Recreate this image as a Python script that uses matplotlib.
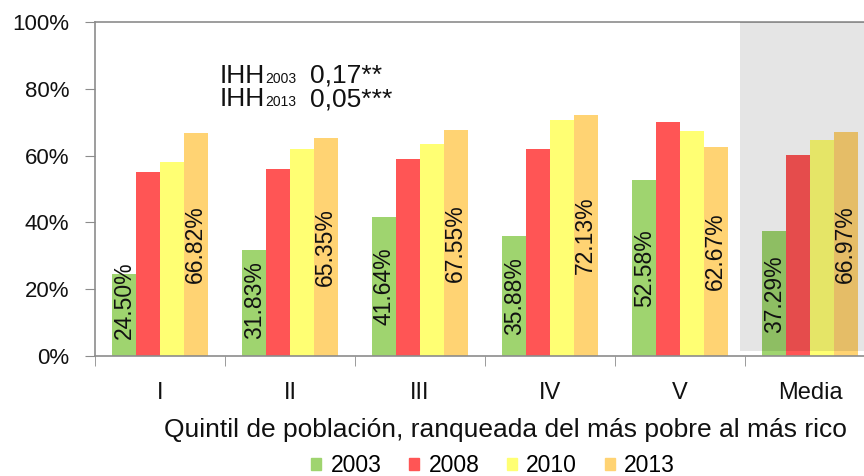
import matplotlib.pyplot as plt
from matplotlib.patches import Patch
import numpy as np

plt.rcParams['font.family'] = ['Liberation Sans', 'DejaVu Sans']

# share of households per income quintile, by survey year
quintiles = ['I', 'II', 'III', 'IV', 'V', 'Media']
years = ['2003', '2008', '2010', '2013']
v2003 = [24.50, 31.83, 41.64, 35.88, 52.58, 37.29]
v2008 = [55.0, 56.1, 58.9, 62.0, 70.0, 60.2]
v2010 = [58.0, 61.9, 63.6, 70.7, 67.5, 64.6]
v2013 = [66.82, 65.35, 67.55, 72.13, 62.67, 66.97]
colors = ['#9fd46f', '#ff5555', '#ffff73', '#ffd373']

series = [v2003, v2008, v2010, v2013]
labelled = [True, False, False, True]
ink = '#111111'

fig = plt.figure(figsize=(8.64, 4.76), dpi=100)
W, H = 864, 476
ax = fig.add_axes([95 / W, 1 - 356 / H, 1 - 95 / W, (356 - 22) / H])

x = np.arange(len(quintiles))
w = 0.183
for i, vals in enumerate(series):
    pos = x + (i - 1.5) * w
    ax.bar(pos, vals, width=w, color=colors[i], zorder=2)
    if labelled[i]:
        for px, v in zip(pos, vals):
            ax.text(px, max(v / 2, 16.8), f'{v:.2f}%', rotation=90,
                    ha='center', va='center', fontsize=16.5,
                    color=ink, zorder=4)

# shaded block behind the average group
ax.axvspan(4.46, 5.6, ymin=0.015, ymax=1, color='black', alpha=0.1,
           lw=0, zorder=3)

ax.set_xlim(-0.5, (W - 160) / 130)
ax.set_ylim(0, 100)

ax.set_yticks(range(0, 101, 20))
ax.set_yticklabels([f'{t}%' for t in range(0, 101, 20)], fontsize=16,
                   color=ink)
ax.tick_params(axis='y', length=7, color='#8c8c8c', pad=11.5)

ax.set_xticks(x)
ax.set_xticklabels(quintiles, fontsize=17, color=ink)
ax.set_xticks(np.arange(-0.5, 5.0, 1), minor=True)
ax.tick_params(axis='x', which='major', length=0, pad=18.5)
ax.tick_params(axis='x', which='minor', length=7, color='#8c8c8c')

for side in ['left', 'bottom', 'top']:
    ax.spines[side].set_color('#8c8c8c')
    ax.spines[side].set_linewidth(1.2)
ax.spines['right'].set_visible(False)

fig.text(505 / W, 1 - 437 / H,
         'Quintil de población, ranqueada del más pobre al más rico',
         ha='center', va='baseline', fontsize=19, color=ink)

# concentration index notes
for base, yr, val in [(83, '2003', '0,17**'), (106, '2013', '0,05***')]:
    fig.text(220 / W, 1 - base / H, 'IHH', fontsize=19, va='baseline',
             color=ink)
    fig.text(265 / W, 1 - base / H, yr, fontsize=10, va='baseline',
             color=ink)
    fig.text(310 / W, 1 - base / H, val, fontsize=19, va='baseline',
             color=ink)

handles = [Patch(color=c) for c in colors]
fig.legend(handles, years, loc='center', bbox_to_anchor=(493 / W, 1 - 466 / H),
           ncol=4, frameon=False, fontsize=16.5, handlelength=0.45,
           handleheight=0.45, handletextpad=0.4, columnspacing=1.2,
           borderpad=0)

fig.savefig('out.png', dpi=100)
